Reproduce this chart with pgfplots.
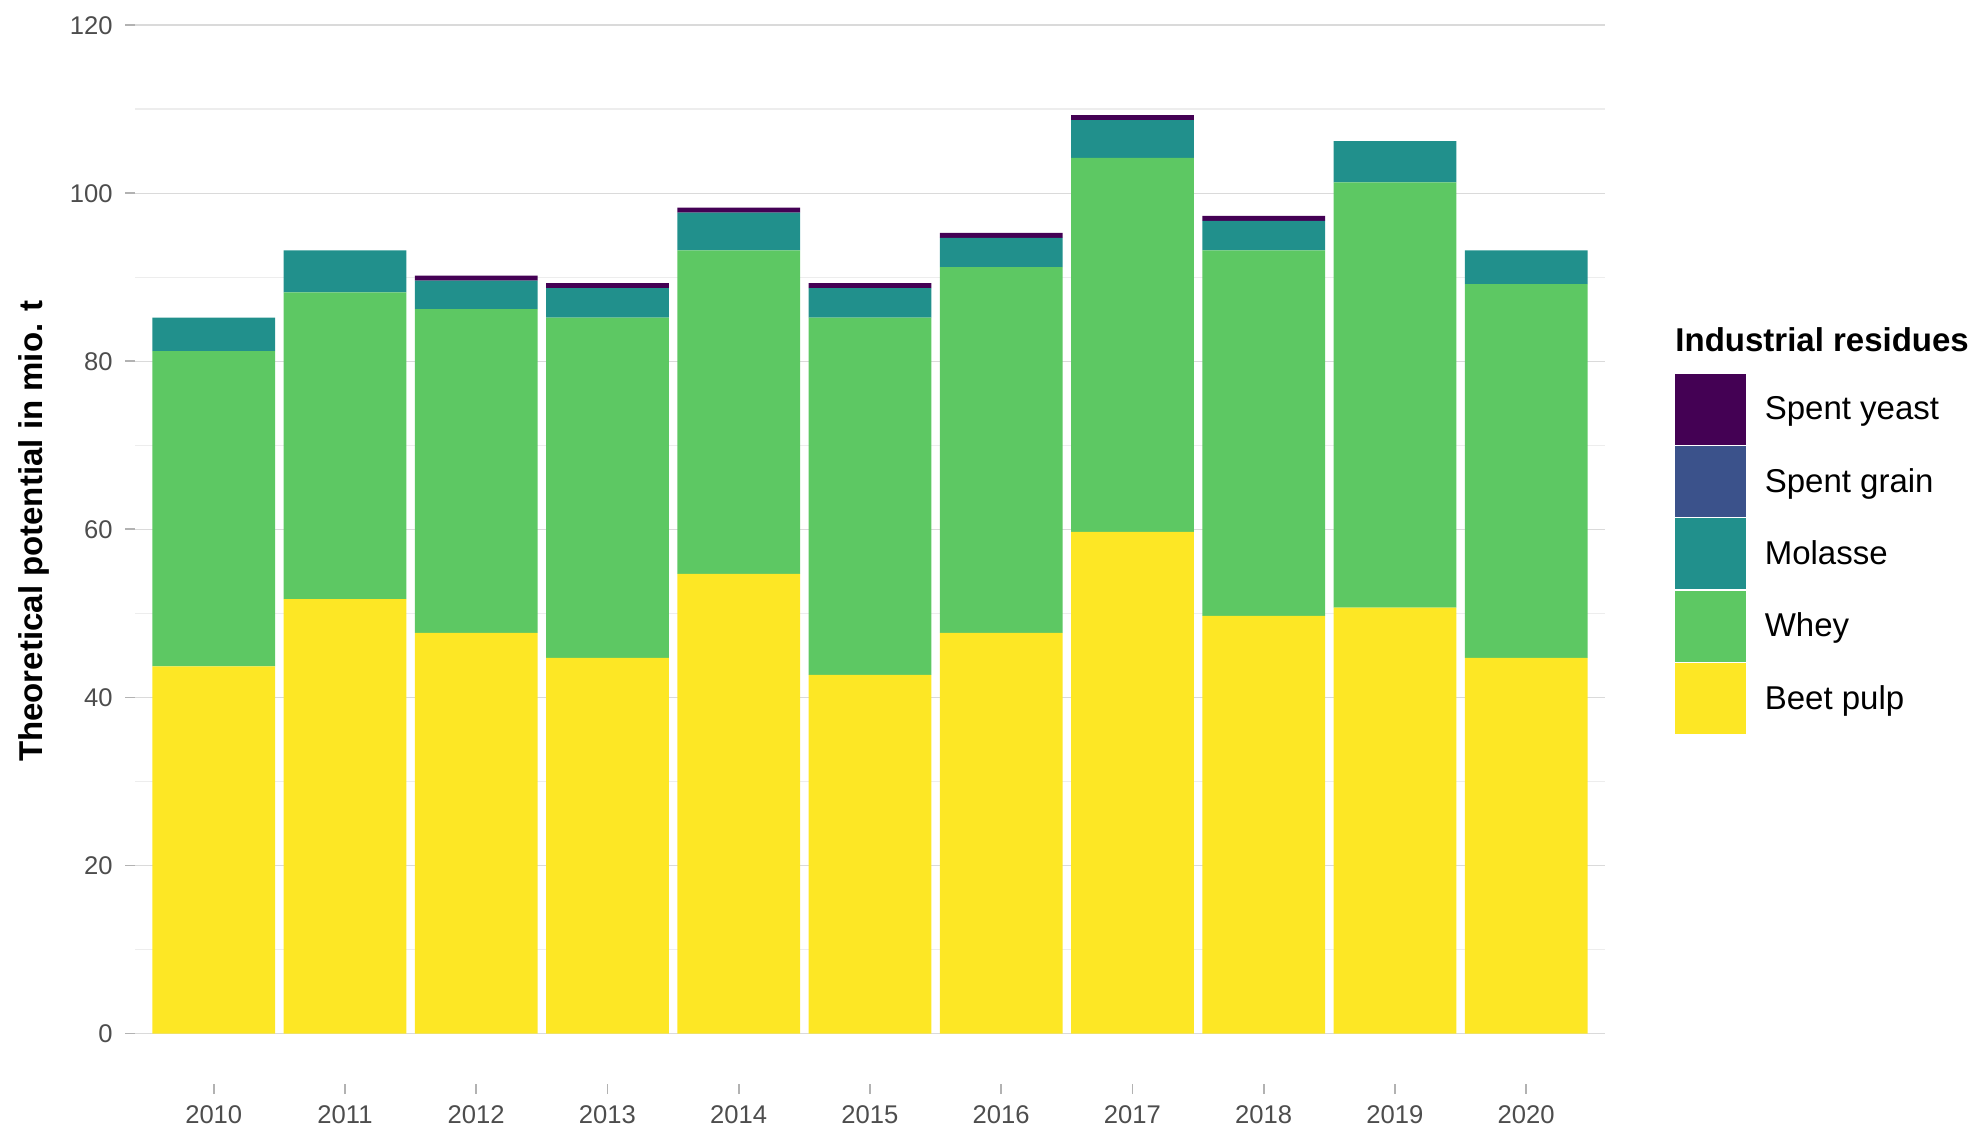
\documentclass[border=0pt]{standalone}
\usepackage{fontspec}
\setmainfont{Liberation Sans}
\usepackage{pgfplots}
\pgfplotsset{compat=1.18}
\usepackage{pgfplotstable}

\definecolor{yeast}{HTML}{440154}
\definecolor{grain}{HTML}{3B528B}
\definecolor{molasse}{HTML}{21908C}
\definecolor{whey}{HTML}{5DC863}
\definecolor{beet}{HTML}{FDE725}
\definecolor{ticklab}{HTML}{4D4D4D}
\definecolor{gridmaj}{HTML}{DADADA}
\definecolor{gridmin}{HTML}{EDEDED}

% values in mio. t
\pgfplotstableread{
year beet whey molasse grain yeast
2010 43.7 37.5 4.0 0 0
2011 51.7 36.5 5.0 0 0
2012 47.7 38.5 3.4 0 0.6
2013 44.7 40.5 3.5 0 0.6
2014 54.7 38.5 4.5 0 0.6
2015 42.7 42.5 3.5 0 0.6
2016 47.7 43.5 3.5 0 0.6
2017 59.7 44.5 4.5 0 0.6
2018 49.7 43.5 3.5 0 0.6
2019 50.7 50.6 4.9 0 0
2020 44.7 44.5 4.0 0 0
}\data

\pgfplotsset{
  boxkey/.style={legend image code/.code={
    \fill[##1] (0pt,-17.9pt) rectangle (35.8pt,17.9pt);
    \draw[white, line width=0.6pt] (0pt,-17.9pt) -- (35.8pt,-17.9pt);}}
}

\begin{document}
\begin{tikzpicture}
\useasboundingbox (-67.5pt,-28.5pt) rectangle (926pt,542pt);
\begin{axis}[
    at={(0,0)}, anchor=south west,
    scale only axis,
    width=735pt, height=542pt,
    ybar stacked,
    bar width=0.935,
    xmin=2009.4, xmax=2020.6,
    ymin=-6, ymax=123,
    xtick={2010,...,2020},
    ytick={0,20,...,120},
    minor ytick={10,30,...,110},
    ymajorgrids, yminorgrids,
    major grid style={color=gridmaj, line width=0.75pt},
    minor grid style={color=gridmin, line width=0.75pt},
    axis line style={draw=none},
    tick pos=left,
    tick align=outside,
    major tick length=5pt,
    minor tick length=0pt,
    tick style={color=black!30, line width=0.9pt},
    /pgf/number format/assume math mode=true,
    /pgf/number format/1000 sep={},
    ticklabel style={font=\fontsize{12.8}{15}\selectfont, text=ticklab},
    xticklabel style={anchor=north, inner sep=0pt, yshift=-5.5pt},
    yticklabel style={anchor=east, inner sep=0pt, xshift=-6pt},
    ylabel={Theoretical potential in mio. t},
    every axis y label/.style={at={(axis description cs:-0.0626,0.51)}, rotate=90, anchor=base, inner sep=0pt, font=\fontsize{16.5}{19}\bfseries},
    reverse legend,
    legend style={at={(axis description cs:1.04694,0.65498)}, anchor=north west,
      draw=none, fill=none, inner sep=0pt, outer sep=0pt, row sep=0pt, column sep=9pt,
      font=\fontsize{16.5}{19}\selectfont,
      nodes={inner sep=0pt, anchor=west}},
]
\addplot[fill=beet, draw=none, boxkey] table[x=year, y=beet] {\data};
\addlegendentry{Beet pulp}
\addplot[fill=whey, draw=none, boxkey] table[x=year, y=whey] {\data};
\addlegendentry{Whey}
\addplot[fill=molasse, draw=none, boxkey] table[x=year, y=molasse] {\data};
\addlegendentry{Molasse}
\addplot[fill=grain, draw=none, boxkey] table[x=year, y=grain] {\data};
\addlegendentry{Spent grain}
\addplot[fill=yeast, draw=none, boxkey] table[x=year, y=yeast] {\data};
\addlegendentry{Spent yeast}
\end{axis}
\node[anchor=base west, inner sep=0pt, font=\fontsize{16.5}{19}\bfseries] at (770pt,366pt) {Industrial residues};
\end{tikzpicture}
\end{document}
